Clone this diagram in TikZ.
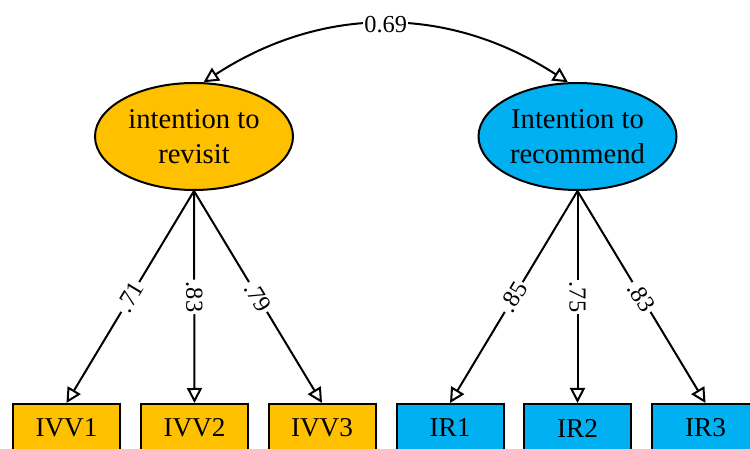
\documentclass[tikz,border=0pt]{standalone}
\usepackage{fontspec}
\setmainfont{Liberation Serif}
\usepackage{tikz}
\usetikzlibrary{arrows.meta,shapes.geometric}
\definecolor{myorange}{RGB}{255,192,0}
\definecolor{myblue}{RGB}{0,176,240}

\begin{document}
\begin{tikzpicture}[x=0.5pt, y=0.5pt, line width=1pt]
    \tikzstyle{latent}=[draw, ellipse, inner sep=0pt, minimum width=99pt, minimum height=53.5pt, align=center, font=\fontsize{14.3}{17.5}\selectfont]
    \tikzstyle{item}=[draw, rectangle, inner sep=0pt, minimum width=53.5pt, minimum height=24pt, font=\fontsize{13.6}{16}\selectfont]
    \tikzstyle{load}=[-{Triangle[open, length=7.5pt, width=7.5pt]}]
    \tikzstyle{lbl}=[fill=white, inner sep=1pt, font=\fontsize{12.2}{13}\selectfont]
    \useasboundingbox (0,0) rectangle (750,449);
    \clip (0,0) rectangle (750,449);
    % latent factors
    \node[latent, fill=myorange] (revisit) at (194,312.5) {intention to\\revisit};
    \node[latent, fill=myblue] (recommend) at (577.5,312.5) {Intention to\\recommend};
    % indicators
    \node[item, fill=myorange] (ivv1) at (66.5,21) {IVV1};
    \node[item, fill=myorange] (ivv2) at (194.5,21) {IVV2};
    \node[item, fill=myorange] (ivv3) at (322,21) {IVV3};
    \node[item, fill=myblue] (ir1) at (450,21) {IR1};
    \node[item, fill=myblue] (ir2) at (577.5,21) {IR2};
    \node[item, fill=myblue] (ir3) at (705.5,21) {IR3};
    % loadings
    \draw[load] (revisit.south) -- node[lbl, sloped] {.71} (ivv1.north);
    \draw[load] (revisit.south) -- node[lbl, sloped] {.83} (ivv2.north);
    \draw[load] (revisit.south) -- node[lbl, sloped] {.79} (ivv3.north);
    \draw[load] (recommend.south) -- node[lbl, sloped] {.85} (ir1.north);
    \draw[load] (recommend.south) -- node[lbl, sloped] {.75} (ir2.north);
    \draw[load] (recommend.south) -- node[lbl, sloped] {.83} (ir3.north);
    % correlation
    \draw[{Triangle[open, length=7.5pt, width=7.5pt]}-{Triangle[open, length=7.5pt, width=7.5pt]}]
      (revisit.80) to[bend left=33] node[lbl, inner sep=0.5pt] {0.69} (recommend.100);
\end{tikzpicture}
\end{document}
